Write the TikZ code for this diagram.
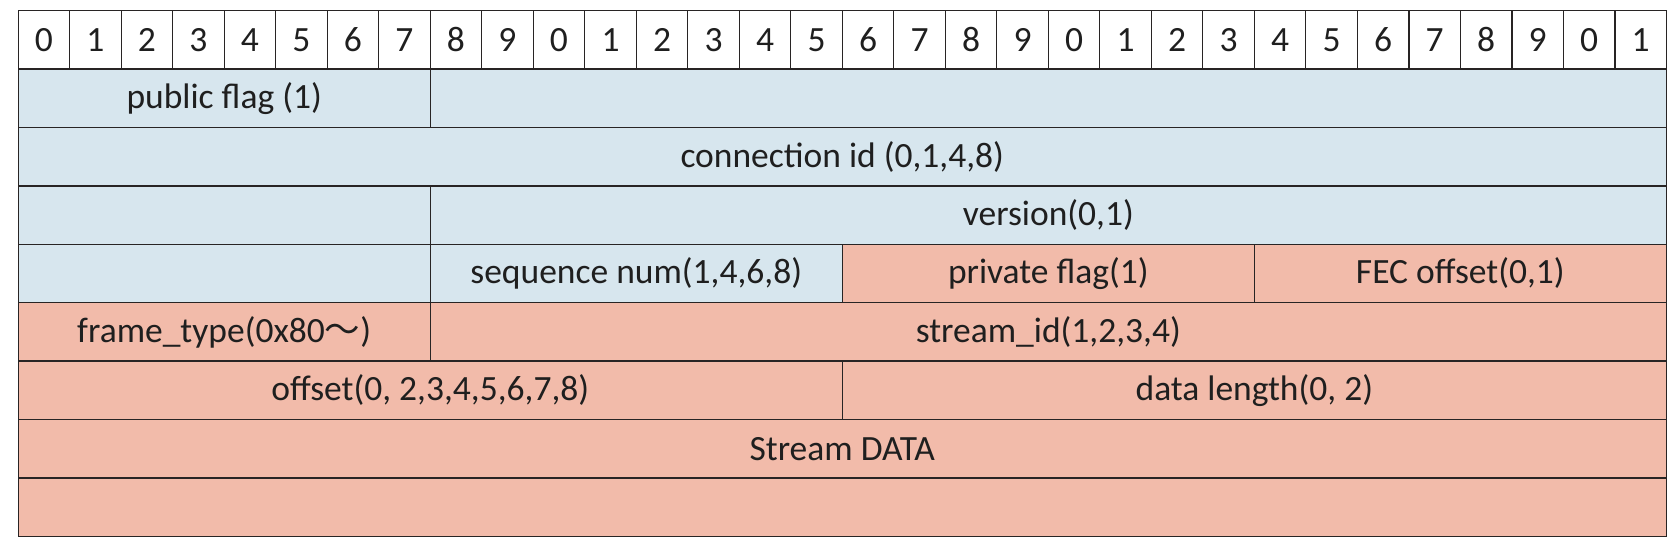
\documentclass[tikz,border=0pt]{standalone}
\usepackage{fontspec}
\setmainfont{Carlito}
\newfontfamily\cjk{Noto Sans CJK JP}
\usepackage{tikz}
\usetikzlibrary{positioning}
\definecolor{hdrblue}{RGB}{215,230,238}
\definecolor{bodypink}{RGB}{242,187,170}
\definecolor{rulegray}{RGB}{40,36,36}

\begin{document}
\begin{tikzpicture}[x=51.5pt, y=-58.4pt,
    every node/.style={font=\fontsize{35.5}{42}\selectfont, text=black!88},
    bitcell/.style={draw=rulegray, line width=1.3pt, fill=white, anchor=north west,
      minimum width=51.5pt, minimum height=58.4pt, inner sep=0pt},
    field/.style={draw=rulegray, line width=1.3pt, anchor=north west,
      minimum width=#1*51.5pt, minimum height=58.4pt, inner sep=0pt}]
  \useasboundingbox (-0.34,-0.171) rectangle (32.18,9.315);
  % bit numbers
  \foreach \i in {0,...,31}{
    \pgfmathtruncatemacro\d{mod(\i,10)}
    \node[bitcell] (bit\i) at (\i,0) {\d};
  }
  % public header
  \node[field=8, fill=hdrblue] (pubflag) at (0,1) {public flag (1)};
  \node[field=24, fill=hdrblue] (pubpad) at (8,1) {};
  \node[field=32, fill=hdrblue] (connid) at (0,2) {connection id (0,1,4,8)};
  \node[field=8, fill=hdrblue] (verpad) at (0,3) {};
  \node[field=24, fill=hdrblue] (version) at (8,3) {version(0,1)};
  \node[field=8, fill=hdrblue] (seqpad) at (0,4) {};
  \node[field=8, fill=hdrblue] (seqnum) at (8,4) {sequence num(1,4,6,8)};
  % private header and stream frame
  \node[field=8, fill=bodypink] (privflag) at (16,4) {private flag(1)};
  \node[field=8, fill=bodypink] (fecoff) at (24,4) {FEC offset(0,1)};
  \node[field=8, fill=bodypink] (ftype) at (0,5) {frame\_type(0x80{\cjk ～})};
  \node[field=24, fill=bodypink] (streamid) at (8,5) {stream\_id(1,2,3,4)};
  \node[field=16, fill=bodypink] (offset) at (0,6) {offset(0, 2,3,4,5,6,7,8)};
  \node[field=16, fill=bodypink] (datalen) at (16,6) {data length(0, 2)};
  \node[field=32, fill=bodypink] (sdata) at (0,7) {Stream DATA};
  \node[field=32, fill=bodypink] (sdatapad) at (0,8) {};
\end{tikzpicture}
\end{document}
